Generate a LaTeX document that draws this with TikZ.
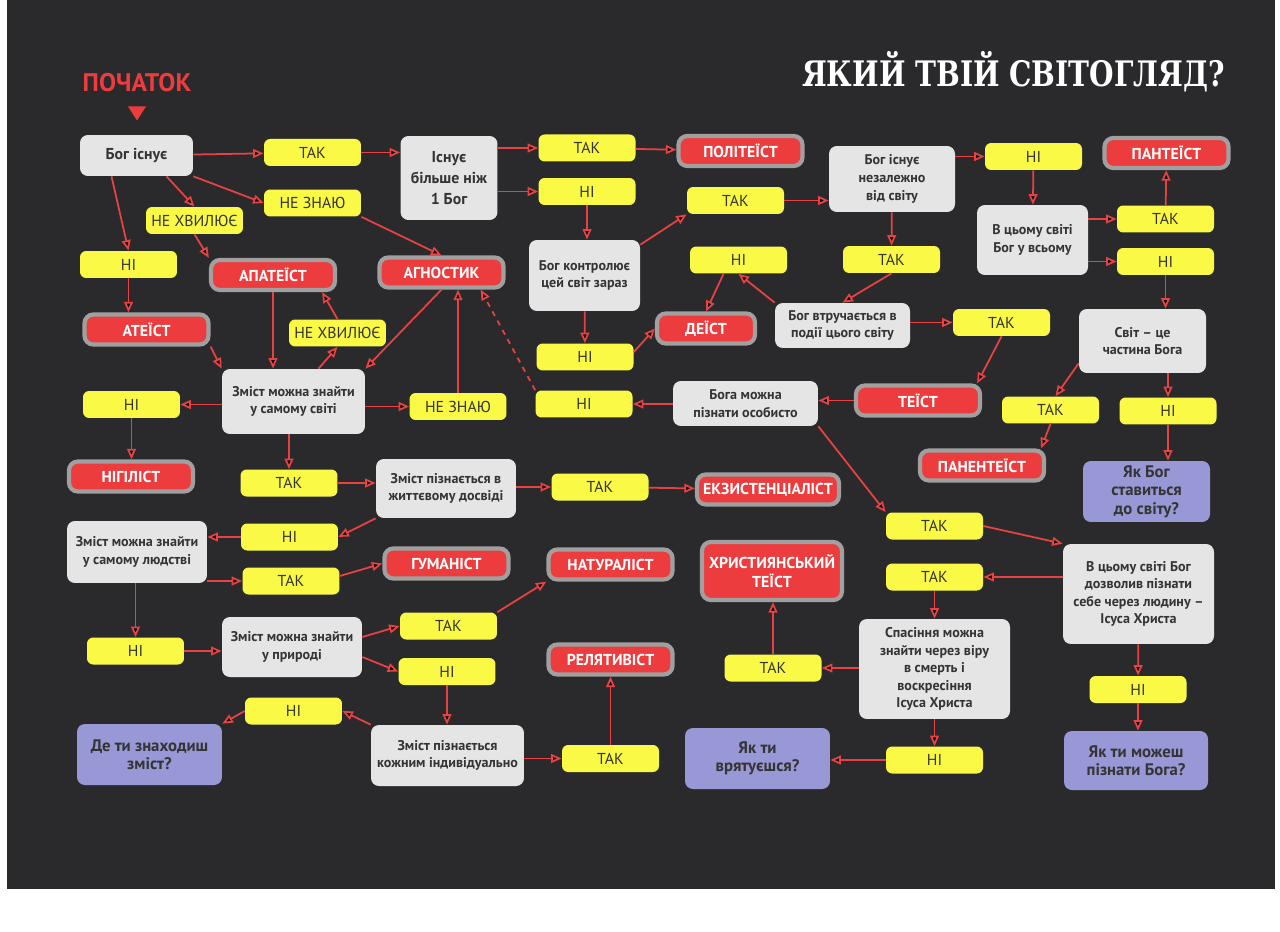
\documentclass[tikz,border=0pt]{standalone}
\usepackage{fontspec}
\setmainfont{PT Sans}
\newfontfamily\headfont[FakeStretch=0.8]{DejaVu Serif}
\usepackage{tikz}
\usetikzlibrary{arrows.meta, positioning, shapes.geometric}
\definecolor{board}{RGB}{42,42,44}
\definecolor{answer}{RGB}{250,250,70}
\definecolor{verdict}{RGB}{236,60,62}
\definecolor{rim}{RGB}{160,160,160}
\definecolor{askgrey}{RGB}{229,229,229}
\definecolor{lilac}{RGB}{152,152,214}
\definecolor{wire}{RGB}{232,66,66}
\definecolor{ink}{RGB}{52,52,52}

\begin{document}
\begin{tikzpicture}[x=0.02cm, y=-0.02cm, >={Triangle[length=6pt,width=5pt]},
      ans/.style={fill=answer, rounded corners=3.5pt, minimum width=1.94cm,
                  minimum height=0.54cm, inner sep=1pt,
                  font=\fontsize{9}{10}\selectfont, text=ink},
      ask/.style={fill=askgrey, rounded corners=4.5pt, align=center, inner sep=1pt,
                  font=\fontsize{8}{10}\selectfont\bfseries, text=ink},
      view/.style={fill=verdict, draw=rim, line width=2.4pt, rounded corners=5pt,
                   minimum width=2.48cm, minimum height=0.6cm, inner sep=1pt, align=center,
                   font=\fontsize{9}{10.5}\selectfont\bfseries, text=white},
      quest/.style={fill=lilac, rounded corners=4.5pt, align=center, inner sep=1pt,
                    font=\fontsize{9.5}{10.5}\selectfont\bfseries, text=ink},
      wires/.style={draw=wire, line width=1pt}]

    \fill[white] (0,0) rectangle (1280,932);
    \fill[board] (7,0) rectangle (1275,889);

    \node[font=\headfont\fontsize{20}{23}\selectfont\bfseries, text=white, anchor=east] (title) at (1231,72) {ЯКИЙ ТВІЙ СВІТОГЛЯД?};
    \node[font=\fontsize{14.5}{17}\selectfont\bfseries, text=verdict] (start) at (137,83) {ПОЧАТОК};
    \fill[verdict] ([shift={(-9,8)}]start.south) -- ([shift={(9,8)}]start.south) -- ([shift={(0,22)}]start.south) -- cycle;

    % questions
    \node[ask, minimum width=2.26cm, minimum height=0.82cm, font=\fontsize{9}{11}\selectfont\bfseries] (qExists) at (136.5,155.5) {Бог існує};
    \node[ask, minimum width=1.94cm, minimum height=1.68cm, font=\fontsize{9}{12}\selectfont\bfseries] (qMany) at (449,178) {Існує\\більше ніж\\1 Бог};
    \node[ask, minimum width=2.22cm, minimum height=1.42cm] (qCtrl) at (584.5,275.5) {Бог контролює\\цей світ зараз};
    \node[ask, minimum width=2.52cm, minimum height=1.32cm] (qIndep) at (892,179) {Бог існує\\незалежно\\від світу};
    \node[ask, minimum width=2.22cm, minimum height=1.40cm] (qAll) at (1032.5,240) {В цьому світі\\Бог у всьому};
    \node[ask, minimum width=2.70cm, minimum height=0.90cm] (qInterv) at (842.5,325.5) {Бог втручається в\\події цього світу};
    \node[ask, minimum width=2.54cm, minimum height=1.28cm] (qPart) at (1142.5,341) {Світ – це\\частина Бога};
    \node[ask, minimum width=2.86cm, minimum height=1.30cm] (qWorld) at (293.5,401.5) {Зміст можна знайти\\у самому світі};
    \node[ask, minimum width=2.90cm, minimum height=0.90cm] (qKnow) at (745.5,403.5) {Бога можна\\пізнати особисто};
    \node[ask, minimum width=2.80cm, minimum height=1.18cm] (qLife) at (446,488.5) {Зміст пізнається в\\життєвому досвіді};
    \node[ask, minimum width=2.80cm, minimum height=1.24cm] (qHuman) at (137,552) {Зміст можна знайти\\у самому людстві};
    \node[ask, minimum width=3.02cm, minimum height=2.00cm] (qJesus) at (1138.5,594) {В цьому світі Бог\\дозволив пізнати\\себе через людину –\\Ісуса Христа};
    \node[ask, minimum width=2.80cm, minimum height=1.20cm] (qNature) at (292,647) {Зміст можна знайти\\у природі};
    \node[ask, minimum width=3.02cm, minimum height=2.00cm] (qSalv) at (934.5,669) {Спасіння можна\\знайти через віру\\в смерть і\\воскресіння\\Ісуса Христа};
    \node[ask, minimum width=3.06cm, minimum height=1.22cm] (qIndiv) at (447.5,755.5) {Зміст пізнається\\кожним індивідуально};

    % open questions
    \node[quest, minimum width=2.54cm, minimum height=1.22cm] (endGod) at (1146.5,491.5) {Як Бог\\ставиться\\до світу?};
    \node[quest, minimum width=2.90cm, minimum height=1.22cm] (endMean) at (149.5,754.5) {Де ти знаходиш\\зміст?};
    \node[quest, minimum width=2.90cm, minimum height=1.22cm] (endSave) at (757.5,758.5) {Як ти\\врятуєшся?};
    \node[quest, minimum width=2.88cm, minimum height=1.18cm] (endKnow) at (1136,760.5) {Як ти можеш\\пізнати Бога?};

    % worldviews
    \node[view] (polyth) at (740.5,151) {ПОЛІТЕЇСТ};
    \node[view] (panth) at (1166.5,153) {ПАНТЕЇСТ};
    \node[view] (apath) at (273,275) {АПАТЕЇСТ};
    \node[view] (agnost) at (441.5,272.5) {АГНОСТИК};
    \node[view] (atheist) at (146.5,329.5) {АТЕЇСТ};
    \node[view, minimum width=1.96cm] (deist) at (706,328.5) {ДЕЇСТ};
    \node[view] (theist) at (918,400.5) {ТЕЇСТ};
    \node[view] (nihil) at (131,476.5) {НІГІЛІСТ};
    \node[view, minimum width=2.84cm] (exist) at (768,489.5) {ЕКЗИСТЕНЦІАЛІСТ};
    \node[view] (panen) at (982,465.5) {ПАНЕНТЕЇСТ};
    \node[view] (human) at (446.5,563.5) {ГУМАНІСТ};
    \node[view] (natur) at (610.5,564.5) {НАТУРАЛІСТ};
    \node[view, minimum width=2.80cm, minimum height=1.16cm] (christ) at (772,571) {ХРИСТИЯНСЬКИЙ\\ТЕЇСТ};
    \node[view] (relat) at (610.5,659.5) {РЕЛЯТИВІСТ};

    % answers
    \node[ans] (exYes) at (312.5,152.5) {ТАК};
    \node[ans] (exDk) at (312.5,203) {НЕ ЗНАЮ};
    \node[ans] (exDc) at (194.5,220.5) {НЕ ХВИЛЮЄ};
    \node[ans] (exNo) at (128.5,264.5) {НІ};
    \node[ans] (manyYes) at (587,148) {ТАК};
    \node[ans] (manyNo) at (587,191.5) {НІ};
    \node[ans] (ctrlYes) at (735.5,200.5) {ТАК};
    \node[ans] (ctrlNo) at (585,357) {НІ};
    \node[ans] (indepNo) at (1033.5,156.5) {НІ};
    \node[ans] (indepYes) at (891.5,259.5) {ТАК};
    \node[ans] (allYes) at (1165.5,219) {ТАК};
    \node[ans] (allNo) at (1165.5,261.5) {НІ};
    \node[ans] (intervNo) at (738.5,260) {НІ};
    \node[ans] (intervYes) at (1001.5,322.5) {ТАК};
    \node[ans] (partYes) at (1050.5,410) {ТАК};
    \node[ans] (partNo) at (1168,411) {НІ};
    \node[ans] (worldDc) at (337.5,333) {НЕ ХВИЛЮЄ};
    \node[ans] (worldNo) at (131.5,404.5) {НІ};
    \node[ans] (worldDk) at (458,406.5) {НЕ ЗНАЮ};
    \node[ans] (worldYes) at (289,483) {ТАК};
    \node[ans] (knowNo) at (584,404) {НІ};
    \node[ans] (knowYes) at (934.5,526) {ТАК};
    \node[ans] (lifeYes) at (600,487) {ТАК};
    \node[ans] (lifeNo) at (289.5,537) {НІ};
    \node[ans] (humYes) at (291,581) {ТАК};
    \node[ans] (humNo) at (135.5,651) {НІ};
    \node[ans] (jesYes) at (934.5,577) {ТАК};
    \node[ans] (jesNo) at (1138,689.5) {НІ};
    \node[ans] (natYes) at (448.5,626) {ТАК};
    \node[ans] (natNo) at (447,671.5) {НІ};
    \node[ans] (salvYes) at (773,668) {ТАК};
    \node[ans] (salvNo) at (934.5,760) {НІ};
    \node[ans] (indNo) at (293.5,711) {НІ};
    \node[ans] (indYes) at (610.5,758.5) {ТАК};

    % connectors
    \draw[wires] (qExists) edge[->] (exYes);
    \draw[wires] (qExists.south east) edge[->] (exDk.west);
    \draw[wires] ([xshift=0.6cm]qExists.south) edge[->] (exDc.north);
    \draw[wires] ([xshift=-0.5cm]qExists.south) edge[->] (exNo.north);
    \draw[wires] (exYes.east) edge[->] (exYes.east -| qMany.west);
    \draw[wires] (qMany.east |- manyYes) edge[->] (manyYes.west);
    \draw[wires] (qMany.east |- manyNo) edge[->] (manyNo.west);
    \draw[wires] (manyYes) edge[->] (polyth);
    \draw[wires] (manyNo) edge[->] (manyNo |- qCtrl.north);
    \draw[wires] ([yshift=-0.1cm]qCtrl.north east) edge[->] (ctrlYes.south west);
    \draw[wires] (ctrlYes.east) edge[->] (ctrlYes.east -| qIndep.west);
    \draw[wires] (qIndep.east |- indepNo) edge[->] (indepNo.west);
    \draw[wires] (qIndep) edge[->] (indepYes);
    \draw[wires] (indepNo) edge[->] (qAll);
    \draw[wires] (qAll.east |- allYes) edge[->] (allYes.west);
    \draw[wires] (qAll.east |- allNo) edge[->] (allNo.west);
    \draw[wires] (allYes) edge[->] (panth);
    \draw[wires] (allNo) edge[->] (allNo |- qPart.north);
    \draw[wires] (indepYes.south) edge[->] (qInterv.north);
    \draw[wires] (qInterv.north west) edge[->] (intervNo.south);
    \draw[wires] ([xshift=-0.3cm]intervNo.south) edge[->] (deist.north);
    \draw[wires] (qInterv.east |- intervYes) edge[->] (intervYes.west);
    \draw[wires] (intervYes.south) edge[->] ([xshift=-0.1cm]theist.north east);
    \draw[wires] (qCtrl) edge[->] (ctrlNo);
    \draw[wires] ([yshift=0.1cm]ctrlNo.east) edge[->] (deist.west);
    \draw[wires] ([yshift=0.2cm]qPart.south west) edge[->] ([xshift=0.1cm]partYes.north);
    \draw[wires] (partNo |- qPart.south) edge[->] (partNo.north);
    \draw[wires] (partYes.south) edge[->] ([xshift=-0.1cm]panen.north east);
    \draw[wires] (partNo) edge[->] (partNo |- endGod.north);
    \draw[wires] (theist.west) edge[->] (theist.west -| qKnow.east);
    \draw[wires] (qKnow.west |- knowNo) edge[->] (knowNo.east);
    \draw[wires] (knowNo.north west) edge[->, dashed] ([xshift=-0.5cm]agnost.south east);
    \draw[wires] (qKnow.south east) edge[->] (knowYes.north west);
    \draw[wires] (knowYes.east) edge[->] (qJesus.north west);
    \draw[wires] (qJesus.west |- jesYes) edge[->] (jesYes.east);
    \draw[wires] (qJesus) edge[->] (jesNo);
    \draw[wires] (jesNo) edge[->] (jesNo |- endKnow.north);
    \draw[wires] (jesYes) edge[->] (jesYes |- qSalv.north);
    \draw[wires] (qSalv.west |- salvYes) edge[->] (salvYes.east);
    \draw[wires] (salvYes) edge[->] (salvYes |- christ.south);
    \draw[wires] (salvNo |- qSalv.south) edge[->] (salvNo.north);
    \draw[wires] (salvNo.west) edge[->] (salvNo.west -| endSave.east);
    \draw[wires] (exDk.south east) edge[->] (agnost.north);
    \draw[wires] (exDc.south) edge[->] (apath.north west);
    \draw[wires] (exNo) edge[->] (exNo |- atheist.north);
    \draw[wires] (atheist.south east) edge[->] (qWorld.north west);
    \draw[wires] (apath) edge[->] (apath |- qWorld.north);
    \draw[wires] ([xshift=0.5cm]qWorld.north) edge[->] (worldDc.south);
    \draw[wires] (worldDc.north) edge[->] ([xshift=-0.3cm]apath.south east);
    \draw[wires] (agnost.south) edge[->] (qWorld.north east);
    \draw[wires] (qWorld.east |- worldDk) edge[->] (worldDk.west);
    \draw[wires] (worldDk) edge[->] (worldDk |- agnost.south);
    \draw[wires] (qWorld.west |- worldNo) edge[->] (worldNo.east);
    \draw[wires] (worldNo) edge[->] (worldNo |- nihil.north);
    \draw[wires] (worldYes |- qWorld.south) edge[->] (worldYes.north);
    \draw[wires] (worldYes.east) edge[->] (worldYes.east -| qLife.west);
    \draw[wires] (qLife.east |- lifeYes) edge[->] (lifeYes.west);
    \draw[wires] (lifeYes) edge[->] (exist);
    \draw[wires] (qLife.south west) edge[->] (lifeNo.east);
    \draw[wires] (lifeNo.west) edge[->] (lifeNo.west -| qHuman.east);
    \draw[wires] (qHuman.east |- humYes) edge[->] (humYes.west);
    \draw[wires] ([yshift=0.1cm]humYes.east) edge[->] (human.west);
    \draw[wires] (humNo |- qHuman.south) edge[->] (humNo.north);
    \draw[wires] (humNo.east) edge[->] (humNo.east -| qNature.west);
    \draw[wires] ([yshift=0.2cm]qNature.east) edge[->] (natYes.west);
    \draw[wires] ([yshift=-0.2cm]qNature.east) edge[->] (natNo.west);
    \draw[wires] (natYes.north east) edge[->] (natur.south west);
    \draw[wires] (natNo) edge[->] (natNo |- qIndiv.north);
    \draw[wires] (qIndiv.north west) edge[->] (indNo.east);
    \draw[wires] (indNo.west) edge[->] (endMean.north east);
    \draw[wires] (qIndiv.east |- indYes) edge[->] (indYes.west);
    \draw[wires] (indYes) edge[->] (indYes |- relat.south);
  \end{tikzpicture}
\end{document}
